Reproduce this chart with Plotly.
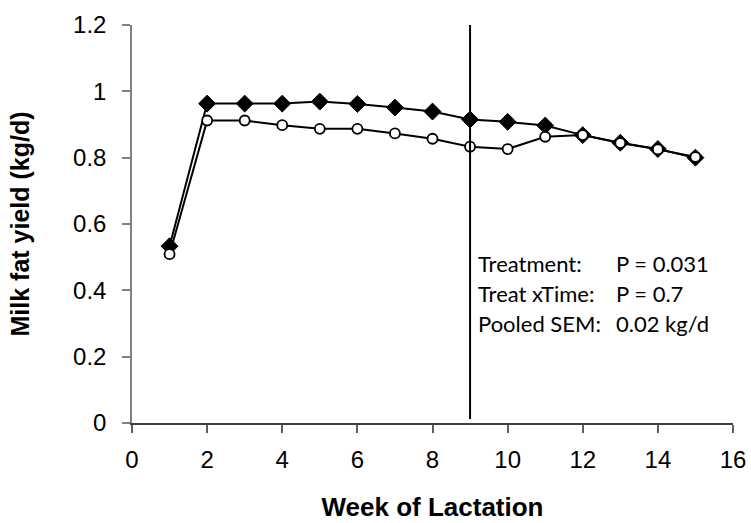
import plotly.graph_objects as go

weeks = list(range(1, 16))
treat_filled = [0.533, 0.963, 0.963, 0.963, 0.969, 0.962, 0.951, 0.939, 0.915, 0.908, 0.897, 0.868, 0.845, 0.826, 0.800]
treat_open = [0.509, 0.912, 0.912, 0.898, 0.887, 0.887, 0.873, 0.857, 0.833, 0.826, 0.863, 0.868, 0.844, 0.825, 0.802]

stat_labels = ["Treatment:", "Treat xTime:", "Pooled SEM:"]
stat_values = ["P = 0.031", "P = 0.7", "0.02 kg/d"]
stat_y = [0.481, 0.391, 0.300]
divider_week = 9

fig = go.Figure()
fig.add_trace(go.Scatter(
    x=weeks, y=treat_filled, mode="lines+markers",
    line=dict(color="black", width=2),
    marker=dict(symbol="diamond", size=13, color="black", line=dict(color="black", width=1)),
    showlegend=False))
fig.add_trace(go.Scatter(
    x=weeks, y=treat_open, mode="lines+markers",
    line=dict(color="black", width=2),
    marker=dict(symbol="circle", size=10, color="white", line=dict(color="black", width=1.8)),
    showlegend=False))

fig.add_shape(type="line", x0=divider_week, x1=divider_week, y0=0.012, y1=1.215,
              xref="x", yref="y", line=dict(color="black", width=2))

ann_font = dict(family="Lato, Liberation Sans", size=22, color="black")
for lab, val, yy in zip(stat_labels, stat_values, stat_y):
    fig.add_annotation(x=9.16, y=yy, xref="x", yref="y", text=lab, showarrow=False,
                       xanchor="left", yanchor="middle", font=ann_font)
    fig.add_annotation(x=12.84, y=yy, xref="x", yref="y", text=val, showarrow=False,
                       xanchor="left", yanchor="middle", font=ann_font)

fig.update_layout(
    width=751, height=523,
    margin=dict(l=132, r=18, t=25, b=100),
    paper_bgcolor="white", plot_bgcolor="white",
    font=dict(family="Liberation Sans, Arial", size=24, color="black"),
    xaxis=dict(range=[0, 16], tickvals=list(range(0, 17, 2)), showgrid=False, zeroline=False,
               showline=True, linecolor="#404040", linewidth=1.5, automargin=False,
               ticks="outside", ticklen=8, tickcolor="#606060", tickwidth=1.5,
               tickfont=dict(size=24), ticklabelstandoff=6,
               title=dict(text="<b>Week of Lactation</b>", font=dict(size=26), standoff=26)),
    yaxis=dict(range=[0, 1.2], tickvals=[0, 0.2, 0.4, 0.6, 0.8, 1.0, 1.2],
               ticktext=["0", "0.2", "0.4", "0.6", "0.8", "1", "1.2"],
               showgrid=False, zeroline=False, automargin=False,
               showline=True, linecolor="#808080", linewidth=1.5,
               ticks="outside", ticklen=8, tickcolor="#808080", tickwidth=1.5,
               tickfont=dict(size=24), ticklabelstandoff=11,
               title=dict(text="<b>Milk fat yield (kg/d)</b>", font=dict(size=25), standoff=36)),
)

fig.write_html("out.html")
